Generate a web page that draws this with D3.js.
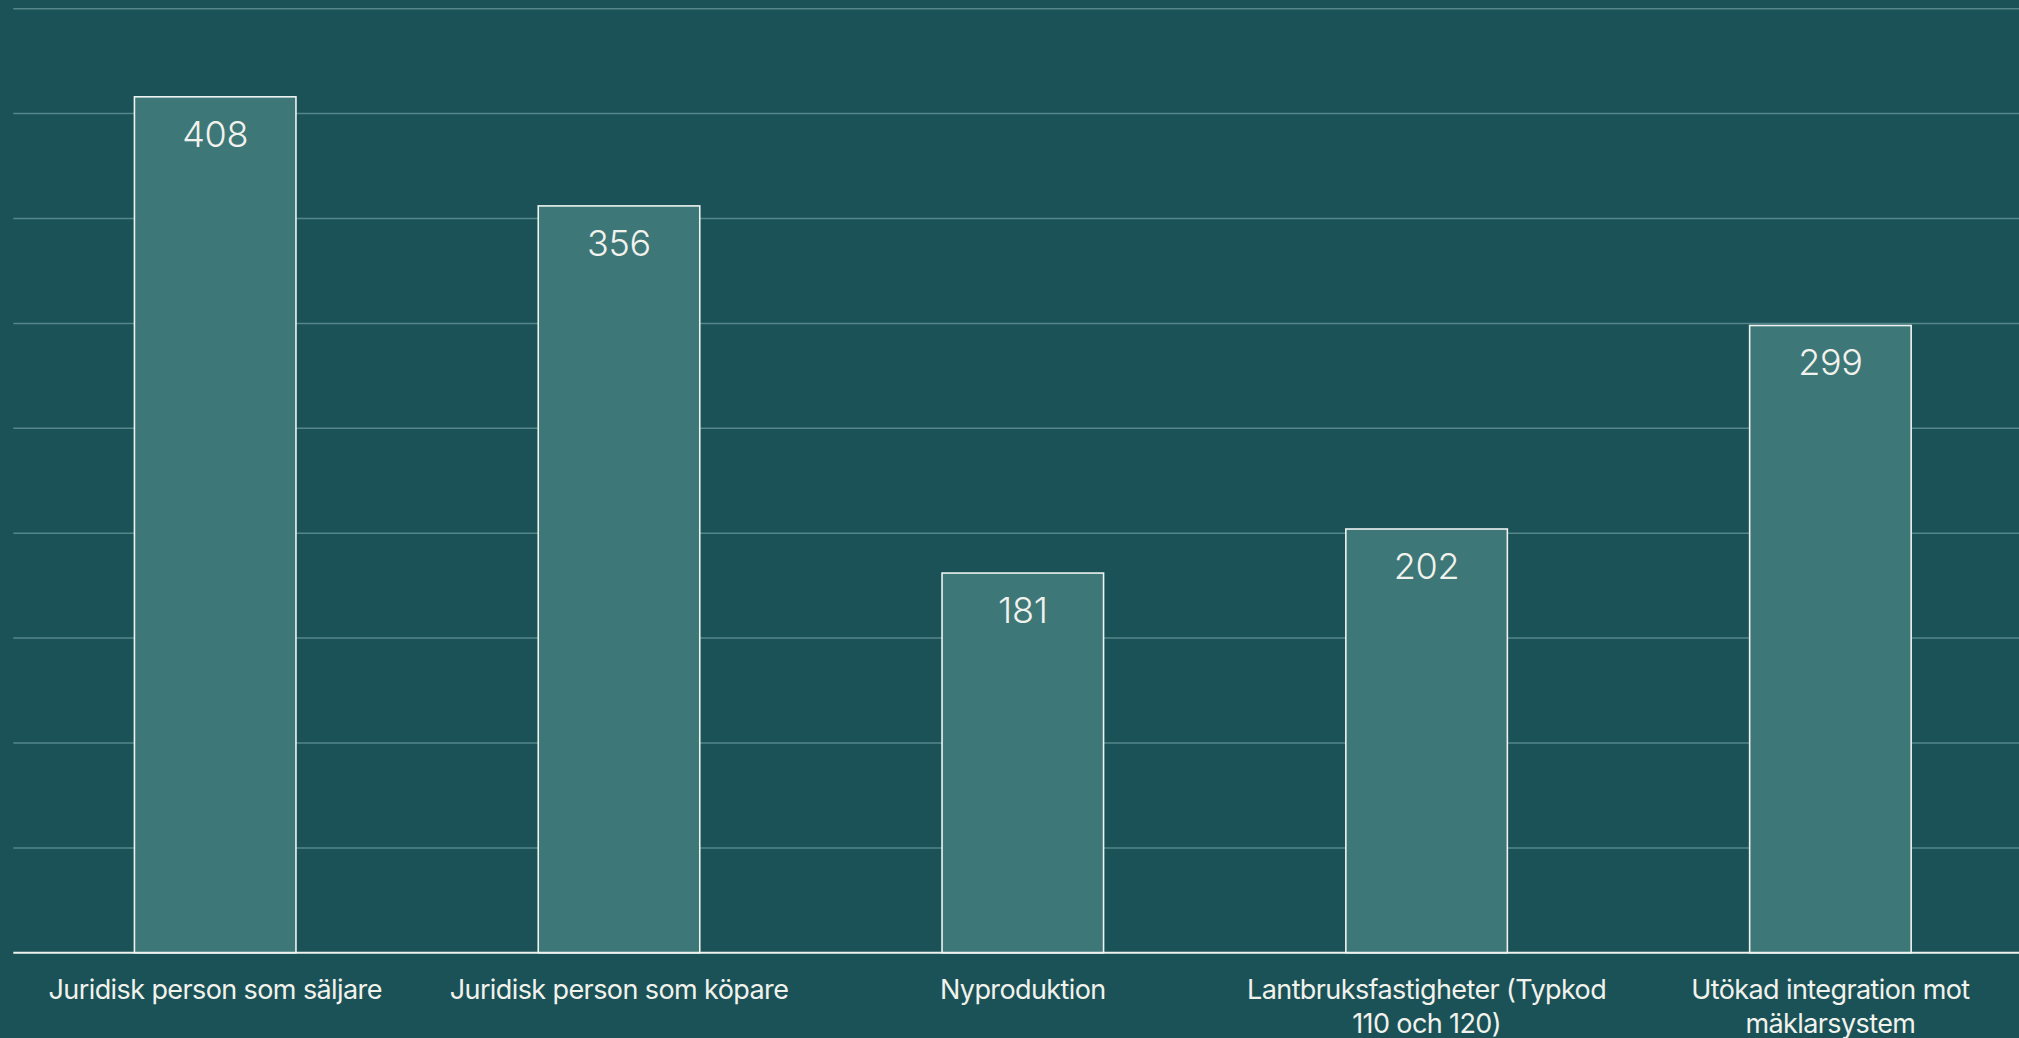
<!DOCTYPE html>
<html><head><meta charset="utf-8">
<script src="https://cdn.jsdelivr.net/npm/d3@7"></script>
<style>
html,body{margin:0;padding:0;background:#1b5257;overflow:hidden;}
svg{display:block;}
text{font-family:"Inter","Lato",sans-serif;fill:#f2f2ec;}
</style></head>
<body><svg id="chart" width="2019" height="1038"></svg>
<script>
const categories = ["Juridisk person som säljare","Juridisk person som köpare","Nyproduktion","Lantbruksfastigheter (Typkod 110 och 120)","Utökad integration mot mäklarsystem"];
const values = [408, 356, 181, 202, 299];
const yTicks = [0,50,100,150,200,250,300,350,400,450];

const W = 2019, H = 1038;
const svg = d3.select("#chart");
svg.append("rect").attr("width",W).attr("height",H).attr("fill","#1b5257");

const x = d3.scaleBand().domain(categories).range([13.3, 2032.3]).paddingInner(0.6).paddingOuter(0.3);
const y = d3.scaleLinear().domain([0,450]).range([952.8, 8.7]);

// gridlines
svg.append("g").selectAll("line").data(yTicks.filter(d=>d>0)).join("line")
  .attr("x1",13.3).attr("x2",W).attr("y1",d=>y(d)).attr("y2",d=>y(d))
  .attr("stroke","#55878a").attr("stroke-width",1.5);

// bars
svg.append("g").selectAll("rect").data(values).join("rect")
  .attr("x",(d,i)=>x(categories[i])).attr("width",x.bandwidth())
  .attr("y",d=>y(d)).attr("height",d=>y(0)-y(d))
  .attr("fill","#3d7778").attr("stroke","#eef3f0").attr("stroke-width",1.6);

// baseline
svg.append("line").attr("x1",13.3).attr("x2",W).attr("y1",y(0)).attr("y2",y(0))
  .attr("stroke","#eef3f0").attr("stroke-width",2);

// value labels
svg.append("g").selectAll("text").data(values).join("text")
  .attr("x",(d,i)=>x(categories[i])+x.bandwidth()/2).attr("y",d=>y(d)+50)
  .attr("text-anchor","middle").attr("font-size",36).attr("font-weight",300).style("letter-spacing","-0.3px")
  .text(d=>d);

// category labels with wrapping
const lab = svg.append("g").selectAll("text").data(categories).join("text")
  .attr("x",d=>x(d)+x.bandwidth()/2).attr("y",999)
  .attr("text-anchor","middle").attr("font-size",27).style("letter-spacing","-0.6px");
lab.each(function(d){
  const t = d3.select(this);
  const words = d.split(" ");
  const cx = +t.attr("x");
  let line = [], lineNo = 0;
  let ts = t.append("tspan").attr("x",cx).attr("y",999);
  for (const w of words){
    line.push(w);
    ts.text(line.join(" "));
    if (ts.node().getComputedTextLength() > 378 && line.length>1){
      line.pop(); ts.text(line.join(" "));
      line=[w]; lineNo++;
      ts = t.append("tspan").attr("x",cx).attr("y",999+lineNo*34).text(w);
    }
  }
});
</script></body></html>
